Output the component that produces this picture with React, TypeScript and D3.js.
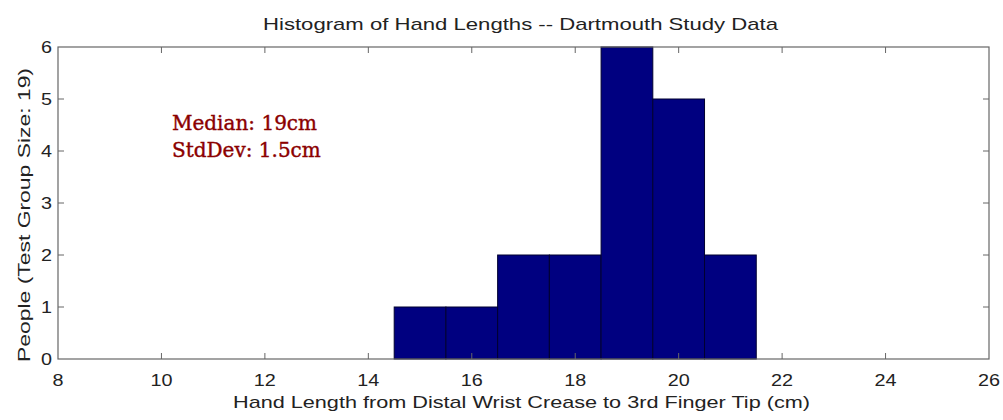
import React from "react";
import * as d3 from "d3";

// Histogram bins (bin centre in cm) and head counts
const binCenters = [15, 16, 17, 18, 19, 20, 21];
const counts = [1, 1, 2, 2, 6, 5, 2];
const xTicks = [8, 10, 12, 14, 16, 18, 20, 22, 24, 26];
const yTicks = [0, 1, 2, 3, 4, 5, 6];
const titleText = "Histogram of Hand Lengths -- Dartmouth Study Data";
const xLabelText = "Hand Length from Distal Wrist Crease to 3rd Finger Tip (cm)";
const yLabelText = "People (Test Group Size: 19)";
const statsLines = ["Median: 19cm", "StdDev: 1.5cm"];

const W = 1003;
const H = 420;
const left = 58;
const right = 989;
const top = 47;
const bottom = 359;
const tickLen = 6;
const sans = "'Liberation Sans', Arial, Helvetica, sans-serif";

export default function App() {
  const x = d3.scaleLinear().domain([8, 26]).range([left, right]);
  const y = d3.scaleLinear().domain([0, 6]).range([bottom, top]);
  const binWidth = 1;

  return (
    <svg
      width={W}
      height={H}
      style={{ position: "absolute", left: 0, top: 0, background: "#fff" }}
    >
      {/* bars */}
      {binCenters.map((c, i) => (
        <rect
          key={c}
          x={x(c - binWidth / 2)}
          y={y(counts[i])}
          width={x(c + binWidth / 2) - x(c - binWidth / 2)}
          height={y(0) - y(counts[i])}
          fill="#000080"
          stroke="#000030"
          strokeWidth={1}
        />
      ))}

      {/* axes box */}
      <rect
        x={left}
        y={top}
        width={right - left}
        height={bottom - top}
        fill="none"
        stroke="#666"
        strokeWidth={1.2}
      />

      {/* x ticks (bottom and top, pointing inward) */}
      {xTicks.slice(1, -1).map((t) => (
        <g key={"xt" + t} stroke="#666" strokeWidth={1}>
          <line x1={x(t)} x2={x(t)} y1={bottom} y2={bottom - tickLen} />
          <line x1={x(t)} x2={x(t)} y1={top} y2={top + tickLen} />
        </g>
      ))}
      {/* y ticks (left and right, pointing inward) */}
      {yTicks.slice(1, -1).map((t) => (
        <g key={"yt" + t} stroke="#666" strokeWidth={1}>
          <line x1={left} x2={left + tickLen} y1={y(t)} y2={y(t)} />
          <line x1={right} x2={right - tickLen} y1={y(t)} y2={y(t)} />
        </g>
      ))}

      {/* tick labels */}
      {xTicks.map((t) => (
        <text
          key={"xl" + t}
          x={x(t)}
          y={386}
          textAnchor="middle"
          fontFamily={sans}
          fontSize={16}
          fill="#222"
          textLength={String(t).length * 11}
          lengthAdjust="spacingAndGlyphs"
        >
          {t}
        </text>
      ))}
      {yTicks.map((t) => (
        <text
          key={"yl" + t}
          x={52}
          y={y(t) + 6}
          textAnchor="end"
          fontFamily={sans}
          fontSize={16}
          fill="#222"
          textLength={11}
          lengthAdjust="spacingAndGlyphs"
        >
          {t}
        </text>
      ))}

      {/* title */}
      <text
        x={263}
        y={30}
        fontFamily={sans}
        fontSize={17}
        fill="#222"
        textLength={515}
        lengthAdjust="spacingAndGlyphs"
      >
        {titleText}
      </text>

      {/* x axis label */}
      <text
        x={233}
        y={408}
        fontFamily={sans}
        fontSize={17}
        fill="#222"
        textLength={577}
        lengthAdjust="spacingAndGlyphs"
      >
        {xLabelText}
      </text>

      {/* y axis label */}
      <text
        transform="translate(30, 362) rotate(-90)"
        x={0}
        y={0}
        fontFamily={sans}
        fontSize={17}
        fill="#222"
        textLength={294}
        lengthAdjust="spacingAndGlyphs"
      >
        {yLabelText}
      </text>

      {/* summary statistics */}
      {statsLines.map((s, i) => (
        <text
          key={s}
          x={172}
          y={130 + i * 27}
          fontFamily="'DejaVu Serif', 'Liberation Serif', serif"
          fontSize={20}
          fill="#8b0000"
          stroke="#8b0000"
          strokeWidth={0.4}
        >
          {s}
        </text>
      ))}
    </svg>
  );
}
